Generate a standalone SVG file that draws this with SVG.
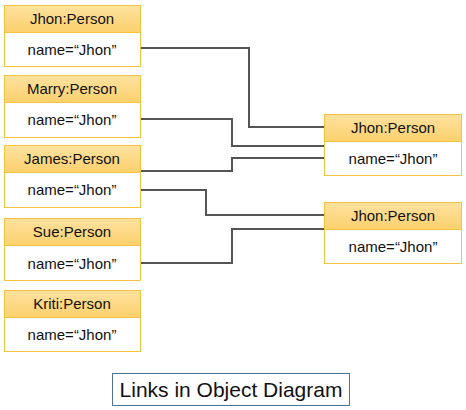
<svg xmlns="http://www.w3.org/2000/svg" width="466" height="410" viewBox="0 0 466 410">
<defs>
<linearGradient id="hg" x1="0" y1="0" x2="0" y2="1">
<stop offset="0" stop-color="#fee2a0"/>
<stop offset="1" stop-color="#fcd06c"/>
</linearGradient>
<style>
.hd{fill:url(#hg);stroke:#f2c441;stroke-width:1}
.bd{fill:#ffffff;stroke:#f2c441;stroke-width:1}
.t{font-family:"Liberation Sans",Arial,sans-serif;font-size:15px;fill:#111;text-anchor:middle}
.ln{fill:none;stroke:#555555;stroke-width:2}
.cap{font-family:"Liberation Sans",Arial,sans-serif;font-size:21px;fill:#111;text-anchor:middle}
</style>
</defs>
<rect width="466" height="410" fill="#ffffff"/>
<g id="connectors">
<path class="ln" d="M140,48 H249 V127 H324"/>
<path class="ln" d="M140,119 H232 V146 H324"/>
<path class="ln" d="M140,171 H232 V158 H324"/>
<path class="ln" d="M140,190 H206 V215 H324"/>
<path class="ln" d="M140,263 H232 V229 H324"/>
</g>
<g id="jhon1">
<rect class="hd" x="4.5" y="5.5" width="136" height="27"/>
<rect class="bd" x="4.5" y="32.5" width="136" height="34"/>
<text class="t" x="72" y="24">Jhon:Person</text>
<text class="t" x="72" y="55">name=“Jhon”</text>
</g>
<g id="marry">
<rect class="hd" x="4.5" y="75.5" width="136" height="27"/>
<rect class="bd" x="4.5" y="102.5" width="136" height="35"/>
<text class="t" x="72" y="94">Marry:Person</text>
<text class="t" x="72" y="125">name=“Jhon”</text>
</g>
<g id="james">
<rect class="hd" x="4.5" y="145.5" width="136" height="27"/>
<rect class="bd" x="4.5" y="172.5" width="136" height="35"/>
<text class="t" x="72" y="164">James:Person</text>
<text class="t" x="72" y="195">name=“Jhon”</text>
</g>
<g id="sue">
<rect class="hd" x="4.5" y="218.5" width="136" height="27"/>
<rect class="bd" x="4.5" y="245.5" width="136" height="35"/>
<text class="t" x="72" y="237">Sue:Person</text>
<text class="t" x="72" y="269">name=“Jhon”</text>
</g>
<g id="kriti">
<rect class="hd" x="4.5" y="290.5" width="136" height="27"/>
<rect class="bd" x="4.5" y="317.5" width="136" height="34"/>
<text class="t" x="72" y="309">Kriti:Person</text>
<text class="t" x="72" y="340">name=“Jhon”</text>
</g>
<g id="jhon2">
<rect class="hd" x="324.5" y="114.5" width="137" height="27"/>
<rect class="bd" x="324.5" y="141.5" width="137" height="34"/>
<text class="t" x="393" y="133">Jhon:Person</text>
<text class="t" x="393" y="164">name=“Jhon”</text>
</g>
<g id="jhon3">
<rect class="hd" x="324.5" y="202.5" width="137" height="27"/>
<rect class="bd" x="324.5" y="229.5" width="137" height="34"/>
<text class="t" x="393" y="221">Jhon:Person</text>
<text class="t" x="393" y="252">name=“Jhon”</text>
</g>
<g id="caption">
<rect x="112.5" y="373.5" width="237" height="32" fill="#ffffff" stroke="#4f7396" stroke-width="1"/>
<text class="cap" x="231" y="397">Links in Object Diagram</text>
</g>
</svg>
